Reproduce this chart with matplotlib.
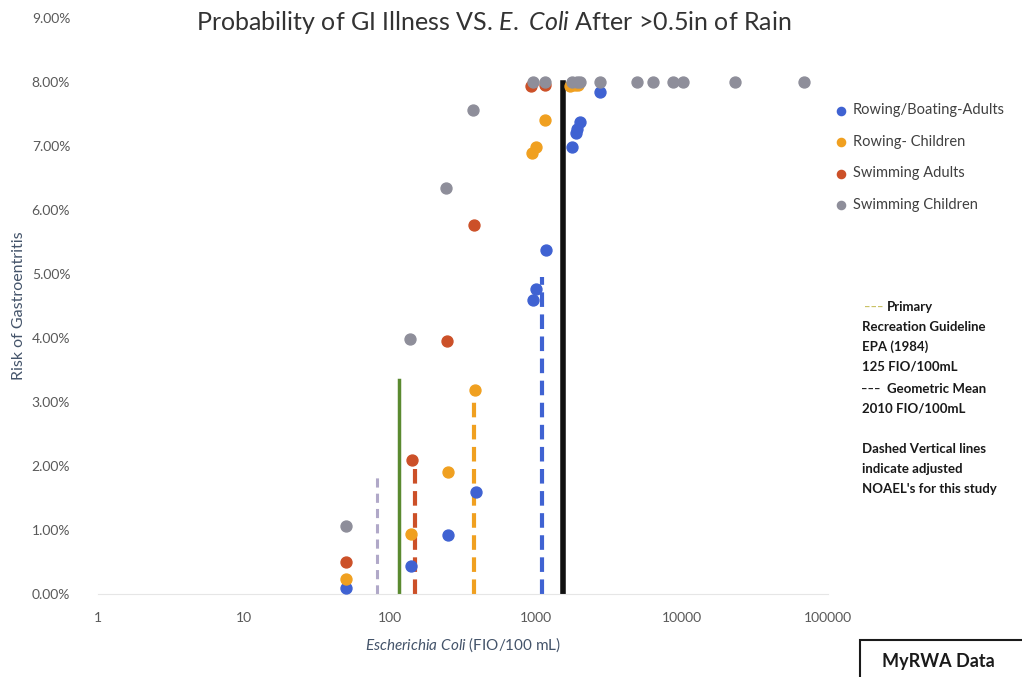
import matplotlib.pyplot as plt
from matplotlib.ticker import FixedLocator, FixedFormatter
from matplotlib.patches import Rectangle

plt.rcParams['font.family'] = ['Lato', 'DejaVu Sans']
plt.rcParams['mathtext.fontset'] = 'custom'
plt.rcParams['mathtext.rm'] = 'Lato'
plt.rcParams['mathtext.it'] = 'Lato:italic'

# E. coli (FIO/100 mL) and risk for each group
boat_adult_x = [50, 139, 248, 388, 959, 1000, 1164, 1754, 1879, 1920, 2000, 2728]
boat_adult_y = [0.0010, 0.0044, 0.0092, 0.0159, 0.0460, 0.0476, 0.0538, 0.0699, 0.0720, 0.0726, 0.0738, 0.0785]

row_child_x = [50, 140, 248, 385, 945, 995, 1150, 1700, 1850, 1950]
row_child_y = [0.0023, 0.0093, 0.0191, 0.0319, 0.0689, 0.0699, 0.0740, 0.0794, 0.0796, 0.0796]

swim_adult_x = [50, 142, 245, 377, 930, 1150]
swim_adult_y = [0.0050, 0.0209, 0.0395, 0.0576, 0.0793, 0.0795]

swim_child_x = [50, 138, 240, 373, 949, 1153, 1757, 1901, 2001, 2729, 4940, 6360, 8715, 10200, 23080, 68500]
swim_child_y = [0.0107, 0.0399, 0.0634, 0.0757, 0.0800, 0.0800, 0.0800, 0.0800, 0.0800, 0.0800,
                0.0800, 0.0800, 0.0800, 0.0800, 0.0800, 0.0800]

# vertical reference lines: x position, top value
noael_grey = (82, 0.0185)
guideline = (115, 0.0335)
noael_red = (148, 0.0200)
noael_orange = (376, 0.0317)
noael_blue = (1105, 0.0495)
geo_mean = (1530, 0.0798)

blue = '#3f62d2'
orange = '#f0a020'
red = '#cc5028'
grey = '#8e8e9a'

fig = plt.figure(figsize=(10.22, 6.77), dpi=100)
ax = fig.add_axes([0.0959, 0.1226, 0.7143, 0.8508])

ax.plot([noael_grey[0]] * 2, [0, noael_grey[1]], color='#b0a8c8', lw=2.2, ls=(0, (3, 2)))
ax.plot([guideline[0]] * 2, [0, guideline[1]], color='#5a8a30', lw=2.5)
ax.plot([noael_red[0]] * 2, [0, noael_red[1]], color=red, lw=3, ls=(0, (3.5, 1.8)))
ax.plot([noael_orange[0]] * 2, [0, noael_orange[1]], color=orange, lw=3, ls=(0, (3.5, 1.8)))
ax.plot([noael_blue[0]] * 2, [0, noael_blue[1]], color=blue, lw=3, ls=(0, (3.5, 1.8)))
ax.plot([geo_mean[0]] * 2, [0, geo_mean[1]], color='#111111', lw=4)

ax.scatter(boat_adult_x, boat_adult_y, s=62, color=blue, label='Rowing/Boating-Adults', zorder=3)
ax.scatter(row_child_x, row_child_y, s=62, color=orange, label='Rowing- Children', zorder=3)
ax.scatter(swim_adult_x, swim_adult_y, s=62, color=red, label='Swimming Adults', zorder=3)
ax.scatter(swim_child_x, swim_child_y, s=62, color=grey, label='Swimming Children', zorder=3)

ax.set_xscale('log')
ax.set_xlim(1, 100000)
ax.set_ylim(0, 0.09)
ax.xaxis.set_major_locator(FixedLocator([1, 10, 100, 1000, 10000, 100000]))
ax.xaxis.set_major_formatter(FixedFormatter(['1', '10', '100', '1000', '10000', '100000']))
ax.xaxis.set_minor_locator(FixedLocator([]))
yt = [i / 100 for i in range(10)]
ax.set_yticks(yt)
ax.set_yticklabels(['%.2f%%' % (v * 100) for v in yt])
ax.tick_params(length=0, labelsize=10, labelcolor='#595959')
ax.tick_params(axis='x', pad=13)
ax.tick_params(axis='y', pad=20)
for s in ['top', 'right', 'left']:
    ax.spines[s].set_visible(False)
ax.spines['bottom'].set_color('#e6e6e6')

ax.set_ylabel('Risk of Gastroentritis', fontsize=11.5, color='#44546a', labelpad=4)
ax.set_xlabel(r'$\it{Escherichia\ Coli}$ (FIO/100 mL)', fontsize=11, color='#44546a', labelpad=8)

fig.text(0.483, 0.967, r'Probability of GI Illness VS. $\it{E.\ Coli}$ After >0.5in of Rain',
         ha='center', va='center', fontsize=18, color='#333333')

ax.legend(loc='upper left', bbox_to_anchor=(1.0, 0.862), frameon=False, fontsize=10.5,
          labelcolor='#404040', handlelength=1.0, handletextpad=0.3, labelspacing=1.2,
          markerscale=0.75, borderaxespad=0)

notes = [('Primary', 307), ('Recreation Guideline', 327), ('EPA (1984)', 347), ('125 FIO/100mL', 367),
         ('Geometric Mean', 389), ('2010 FIO/100mL', 409),
         ('Dashed Vertical lines', 449), ('indicate adjusted', 469), ("NOAEL's for this study", 489)]
for txt, ypx in notes:
    xpx = 862
    if txt in ('Primary', 'Geometric Mean'):
        xpx = 887
    fig.text(xpx / 1022, 1 - ypx / 677, txt, ha='left', va='center', fontsize=9.5,
             fontweight='bold', color='#1a1a1a')
fig.text(864 / 1022, 1 - 307 / 677, '\u2013\u2013\u2013', ha='left', va='center', fontsize=8,
         fontweight='bold', color='#c8c060')
fig.text(861 / 1022, 1 - 389 / 677, '\u2013\u2013\u2013', ha='left', va='center', fontsize=8,
         fontweight='bold', color='#1a1a1a')

fig.patches.append(Rectangle((860 / 1022, -0.02), 0.16, 0.075, transform=fig.transFigure,
                             fill=False, edgecolor='#1a1a1a', lw=1.5))
fig.text(938 / 1022, 1 - 662 / 677, 'MyRWA Data', ha='center', va='center', fontsize=13,
         fontweight='bold', color='#1a1a1a')

fig.savefig('out.png', dpi=100)
